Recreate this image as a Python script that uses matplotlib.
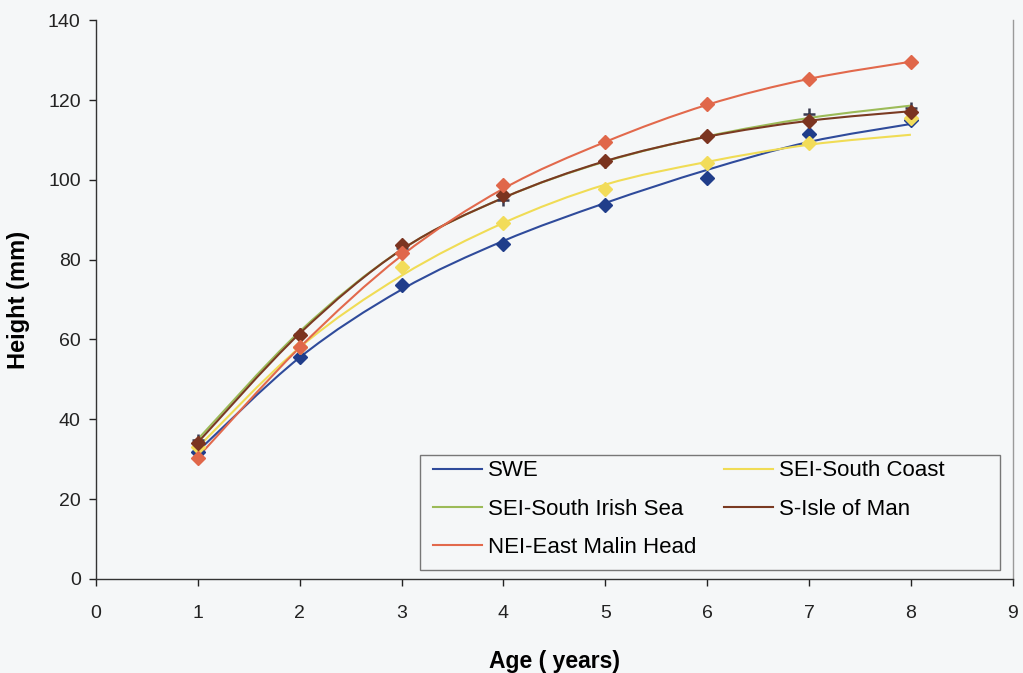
import matplotlib
matplotlib.use("Agg")
import matplotlib.pyplot as plt
from matplotlib.path import Path
from matplotlib.patches import PathPatch, Rectangle
from matplotlib.lines import Line2D

plt.rcParams['font.family'] = ['Liberation Sans', 'DejaVu Sans']

ages = [1, 2, 3, 4, 5, 6, 7, 8]
series_names = ["SWE", "SEI-South Coast", "SEI-South Irish Sea", "S-Isle of Man", "NEI-East Malin Head"]

# observed mean heights (markers)
obs_swe = [31.8, 55.6, 73.6, 84.0, 93.8, 100.4, 111.5, 115.0]
obs_sc = [33.0, 58.0, 78.2, 89.2, 97.6, 104.2, 109.3, 115.5]
obs_sis = [34.8, 61.5, 83.0, 95.0, 104.5, 111.0, 116.5, 118.0]
obs_sim = [34.1, 61.2, 83.6, 96.2, 104.8, 111.1, 114.8, 117.0]
obs_nei = [30.2, 58.0, 81.7, 98.6, 109.5, 119.0, 125.3, 129.4]

# fitted growth curves (lines)
fit_swe = [32.0, 55.5, 72.5, 84.7, 94.2, 102.5, 109.5, 114.0]
fit_sc = [33.0, 58.0, 76.0, 89.2, 98.8, 104.5, 108.8, 111.3]
fit_sis = [35.0, 62.0, 82.5, 95.5, 104.6, 110.9, 115.5, 118.6]
fit_sim = [34.2, 61.5, 82.5, 95.5, 104.7, 110.8, 114.8, 117.2]
fit_nei = [30.5, 58.0, 81.0, 97.8, 109.5, 118.8, 125.3, 129.6]

x_ticks = [0, 1, 2, 3, 4, 5, 6, 7, 8, 9]
y_ticks = [0, 20, 40, 60, 80, 100, 120, 140]

line_colors = ["#2f4b9b", "#f0dc55", "#9cbb58", "#7a3a22", "#e2694c"]
marker_colors = ["#203d8a", "#f2dc5a", "#3a3a50", "#7b3420", "#e0674a"]
markers = ["D", "D", "+", "D", "D"]

obs = [obs_swe, obs_sc, obs_sis, obs_sim, obs_nei]
fits = [fit_swe, fit_sc, fit_sis, fit_sim, fit_nei]

bg = "#f5f7f8"
fig = plt.figure(figsize=(10.23, 6.73), dpi=100, facecolor=bg)
ax = fig.add_axes([0.0938, 0.1397, 0.8962, 0.8303])
ax.set_facecolor(bg)


def smooth_path(xs, ys):
    verts = [(xs[0], ys[0])]
    codes = [Path.MOVETO]
    n = len(xs)
    for i in range(n - 1):
        i0 = max(i - 1, 0)
        i3 = min(i + 2, n - 1)
        c1 = (xs[i] + (xs[i + 1] - xs[i0]) / 6.0, ys[i] + (ys[i + 1] - ys[i0]) / 6.0)
        c2 = (xs[i + 1] - (xs[i3] - xs[i]) / 6.0, ys[i + 1] - (ys[i3] - ys[i]) / 6.0)
        verts += [c1, c2, (xs[i + 1], ys[i + 1])]
        codes += [Path.CURVE4] * 3
    return Path(verts, codes)


handles = []
for k in range(5):
    p = smooth_path(ages, fits[k])
    ax.add_patch(PathPatch(p, facecolor="none", edgecolor=line_colors[k], lw=1.5,
                           transform=ax.transData, zorder=3))
    if markers[k] == "+":
        ax.plot(ages, obs[k], linestyle="none", marker="+", markersize=9,
                markeredgewidth=1.8, color=marker_colors[k], zorder=4)
    else:
        ax.plot(ages, obs[k], linestyle="none", marker="D", markersize=7.5,
                color=marker_colors[k], markeredgecolor=marker_colors[k], zorder=4 + k * 0.1)
    handles.append(Line2D([0], [0], color=line_colors[k], lw=1.5))

ax.set_xlim(0, 9)
ax.set_ylim(0, 140)
ax.set_xticks(x_ticks)
ax.set_yticks(y_ticks)
ax.tick_params(axis="x", labelsize=14, direction="out", length=5, width=1, pad=14, colors="#222222")
ax.tick_params(axis="y", labelsize=14, direction="out", length=5, width=1, pad=6, colors="#222222")
ax.spines["top"].set_visible(False)
ax.spines["right"].set_color("#9a9a9a")
ax.spines["right"].set_linewidth(1.0)
for s in ["left", "bottom"]:
    ax.spines[s].set_color("#333333")
    ax.spines[s].set_linewidth(1.0)
ax.set_xlabel("Age ( years)", fontsize=16.5, fontweight="bold", labelpad=20)
ax.set_ylabel("Height (mm)", fontsize=17, fontweight="bold", labelpad=13)

# legend frame
ax.add_patch(Rectangle((0.353, 0.016), 0.633, 0.206, transform=ax.transAxes,
                       facecolor=bg, edgecolor="#777777", lw=1.0, zorder=5))
order = [0, 2, 4, 1, 3]
leg = ax.legend([handles[i] for i in order], [series_names[i] for i in order],
                ncol=2, loc="upper left", bbox_to_anchor=(0.362, 0.222),
                fontsize=16, frameon=False, handlelength=2.2,
                handletextpad=0.27, labelspacing=0.78, columnspacing=1.25,
                borderaxespad=0, borderpad=0.25)
leg.set_zorder(6)

fig.savefig("out.png", dpi=100, facecolor=bg)
